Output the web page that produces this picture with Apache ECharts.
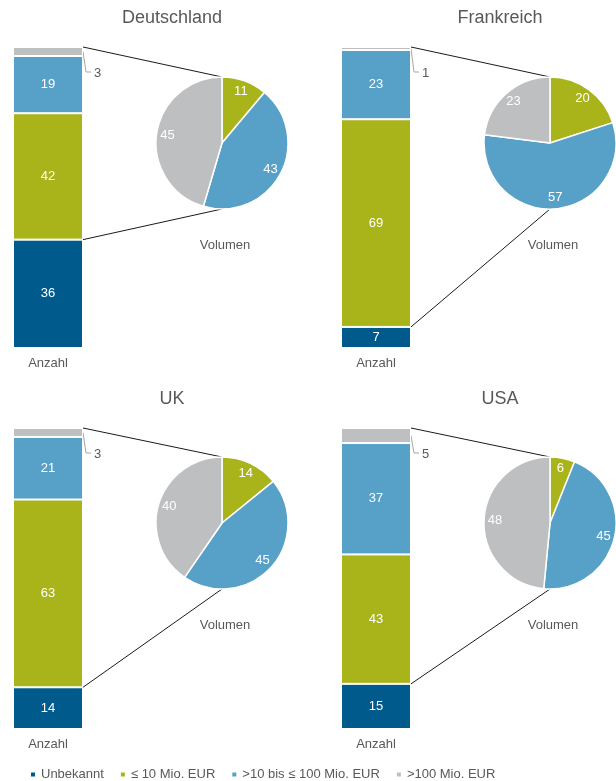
<!DOCTYPE html>
<html>
<head>
<meta charset="utf-8">
<script src="https://cdn.jsdelivr.net/npm/echarts@6/dist/echarts.min.js"></script>
<style>
html,body{margin:0;padding:0;background:#fff;}
#main{width:616px;height:781px;}
</style>
</head>
<body>
<div id="main"></div>
<script>
// ---- data ----
const countries = ['Deutschland', 'Frankreich', 'UK', 'USA'];
const categories = ['Anzahl'];
const pieLabel = 'Volumen';
const seriesNames = ['Unbekannt', '≤ 10 Mio. EUR', '>10 bis ≤ 100 Mio. EUR', '>100 Mio. EUR'];
// Anzahl (stacked bar)
const anzahlUnbekannt = [36, 7, 14, 15];
const anzahlBis10 = [42, 69, 63, 43];
const anzahl10bis100 = [19, 23, 21, 37];
const anzahlUeber100 = [3, 1, 3, 5];
// Volumen (pie)
const volumenBis10 = [11, 20, 14, 6];
const volumen10bis100 = [43, 57, 45, 45];
const volumenUeber100 = [45, 23, 40, 48];

// ---- style / layout ----
const colors = ['#005a8c', '#a8b41a', '#57a1c9', '#bdbfc1'];
const FONT = 'Liberation Sans, Arial, sans-serif';
const TXT = '#595959';
const panels = [
  { gx: 13, gy: 47, pcx: 222, pcy: 143 },
  { gx: 341, gy: 47, pcx: 550, pcy: 143 },
  { gx: 13, gy: 428, pcx: 222, pcy: 523 },
  { gx: 341, gy: 428, pcx: 550, pcy: 523 }
];
const GW = 70, GH = 301, R = 66;

const chart = echarts.init(document.getElementById('main'), null, { renderer: 'canvas' });

const grids = [], xAxes = [], yAxes = [], series = [], titles = [];
const barArrays = [anzahlUnbekannt, anzahlBis10, anzahl10bis100, anzahlUeber100];
const pieArrays = [volumenBis10, volumen10bis100, volumenUeber100];

panels.forEach((p, i) => {
  grids.push({ left: p.gx, top: p.gy, width: GW, height: GH });
  xAxes.push({
    type: 'category', gridIndex: i, data: categories,
    axisLine: { show: false }, axisTick: { show: false },
    axisLabel: { color: TXT, fontSize: 13, fontFamily: FONT, margin: 9 }
  });
  yAxes.push({
    type: 'value', gridIndex: i, min: 0, max: 'dataMax', show: false,
    splitLine: { show: false }
  });
  barArrays.forEach((arr, k) => {
    series.push({
      type: 'bar', name: seriesNames[k], xAxisIndex: i, yAxisIndex: i,
      stack: 'anzahl' + i, barWidth: '100%', data: [arr[i]],
      itemStyle: { color: colors[k], borderColor: '#fff', borderWidth: 1 },
      label: {
        show: k < 3, position: 'inside', color: '#fff',
        fontSize: 13, fontFamily: FONT
      },
      emphasis: { disabled: true }, silent: true
    });
  });
  const pieData = pieArrays.map((arr, k) => ({
    name: seriesNames[k + 1], value: arr[i],
    itemStyle: { color: colors[k + 1] }
  }));
  series.push({
    type: 'pie', center: [p.pcx, p.pcy], radius: [0, R], startAngle: 90,
    clockwise: true, data: pieData, label: { show: false }, labelLine: { show: false },
    itemStyle: { borderColor: '#fff', borderWidth: 1.5 },
    emphasis: { disabled: true }, silent: true
  });
  // label overlay (transparent ring) to place values at ~0.78 radius
  series.push({
    type: 'pie', center: [p.pcx, p.pcy], radius: [R * 0.58, R], startAngle: 90,
    clockwise: true,
    data: pieArrays.map((arr, k) => ({ name: 'lbl' + i + '_' + k, value: arr[i] })),
    itemStyle: { color: 'rgba(0,0,0,0)' },
    label: { show: true, position: 'inside', color: '#fff', fontSize: 13, fontFamily: FONT, formatter: '{c}' },
    labelLine: { show: false }, emphasis: { disabled: true }, silent: true
  });
  titles.push({
    text: countries[i], left: p.pcx - 50, top: p.gy - 38,
    textAlign: 'center', padding: 0,
    textStyle: { fontSize: 18, fontWeight: 'normal', color: TXT, fontFamily: FONT }
  });
  titles.push({
    text: pieLabel, left: p.pcx + 3, top: p.pcy + R + 30, textAlign: 'center', padding: 0,
    textStyle: { fontSize: 13, fontWeight: 'normal', color: TXT, fontFamily: FONT }
  });
});

chart.setOption({
  animation: false,
  textStyle: { fontFamily: FONT },
  title: titles,
  grid: grids, xAxis: xAxes, yAxis: yAxes, series: series,
  legend: {
    data: seriesNames, left: 29, top: 768, padding: 0, icon: 'rect',
    itemWidth: 6, itemHeight: 6, itemGap: 15,
    textStyle: { color: TXT, fontSize: 13, fontFamily: FONT },
    selectedMode: false
  }
});

// connectors and small-value labels, positioned through the axes
const gfx = [];
panels.forEach((p, i) => {
  const right = p.gx + GW;
  const total = anzahlUnbekannt[i] + anzahlBis10[i] + anzahl10bis100[i] + anzahlUeber100[i];
  const yTop = chart.convertToPixel({ yAxisIndex: i }, total);
  const yBound = chart.convertToPixel({ yAxisIndex: i }, anzahlUnbekannt[i]);
  const yGreyMid = chart.convertToPixel({ yAxisIndex: i }, total - anzahlUeber100[i] / 2);
  gfx.push({
    type: 'line', silent: true,
    shape: { x1: right, y1: yTop, x2: p.pcx, y2: p.pcy - R },
    style: { stroke: '#1a1a1a', lineWidth: 1 }
  });
  gfx.push({
    type: 'line', silent: true,
    shape: { x1: right, y1: yBound, x2: p.pcx, y2: p.pcy + R },
    style: { stroke: '#1a1a1a', lineWidth: 1 }
  });
  gfx.push({
    type: 'polyline', silent: true,
    shape: { points: [[right, yGreyMid], [right + 3, yTop + 25], [right + 8, yTop + 25]] },
    style: { stroke: '#a6a6a6', lineWidth: 1, fill: null }
  });
  gfx.push({
    type: 'text', silent: true, x: right + 11, y: yTop + 26,
    style: {
      text: String(anzahlUeber100[i]), fill: TXT, fontSize: 13, fontFamily: FONT,
      textVerticalAlign: 'middle', verticalAlign: 'middle', align: 'left'
    }
  });
});
chart.setOption({ graphic: gfx });
</script>
</body>
</html>
